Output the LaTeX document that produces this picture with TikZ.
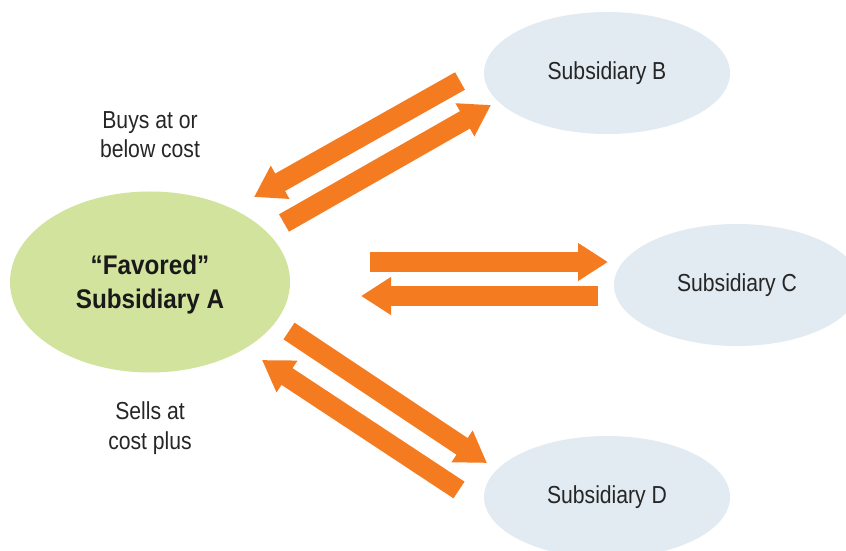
\documentclass[tikz,border=0pt]{standalone}
\usepackage{fontspec}
\setmainfont{Liberation Sans}[FakeStretch=0.86]
\newfontfamily\favfont{Liberation Sans}[FakeStretch=0.9, Ligatures=TeX]
\usetikzlibrary{shapes.geometric,arrows.meta}

\definecolor{flow}{HTML}{F47B20}
\definecolor{favored}{HTML}{D1E39C}
\definecolor{subs}{HTML}{E1EBF1}

\tikzset{
  sub/.style={ellipse, fill=subs, inner sep=0pt, minimum width=73.8mm, minimum height=36.6mm,
    font=\fontsize{21}{25}\selectfont, text=black!85},
  flowarrow/.style={draw=flow, line width=6mm, -{Triangle[length=9mm, width=10.8mm]}},
  note/.style={align=center, font=\fontsize{21}{25}\selectfont, text=black!85}
}

\begin{document}
\begin{tikzpicture}[x=0.3mm, y=-0.3mm]
  \useasboundingbox (0,0) rectangle (846,551);

  % the four companies
  \node (A) at (150,282) [ellipse, fill=favored, inner sep=0pt, minimum width=84mm, minimum height=54.3mm] {};
  \node (Atext) at (150,285) [align=center, font=\favfont\bfseries\fontsize{23}{29}\selectfont, text=black!90]
    {“Favored”\\Subsidiary A};
  \node (B) at (607,73) [sub] {Subsidiary B};
  \node (C) at (737,285) [sub] {Subsidiary C};
  \node (D) at (607,497) [sub] {Subsidiary D};

  % labels
  \node (buys) at (150,135) [note] {Buys at or\\below cost};
  \node (sells) at (150,428) [note] {Sells at\\cost plus};

  % ends of the arrows
  \coordinate (ba-s) at (460,81);  \coordinate (ba-e) at (254,197);
  \coordinate (ab-s) at (284,223); \coordinate (ab-e) at (491,105);
  \coordinate (ac-s) at (370,262); \coordinate (ac-e) at (608,262);
  \coordinate (ca-s) at (598,296); \coordinate (ca-e) at (361,296);
  \coordinate (ad-s) at (289,331); \coordinate (ad-e) at (487,463);
  \coordinate (da-s) at (459,490); \coordinate (da-e) at (262,360);

  \draw[flowarrow] (ba-s) -- (ba-e);
  \draw[flowarrow] (ab-s) -- (ab-e);
  \draw[flowarrow] (ac-s) -- (ac-e);
  \draw[flowarrow] (ca-s) -- (ca-e);
  \draw[flowarrow] (ad-s) -- (ad-e);
  \draw[flowarrow] (da-s) -- (da-e);
\end{tikzpicture}
\end{document}
